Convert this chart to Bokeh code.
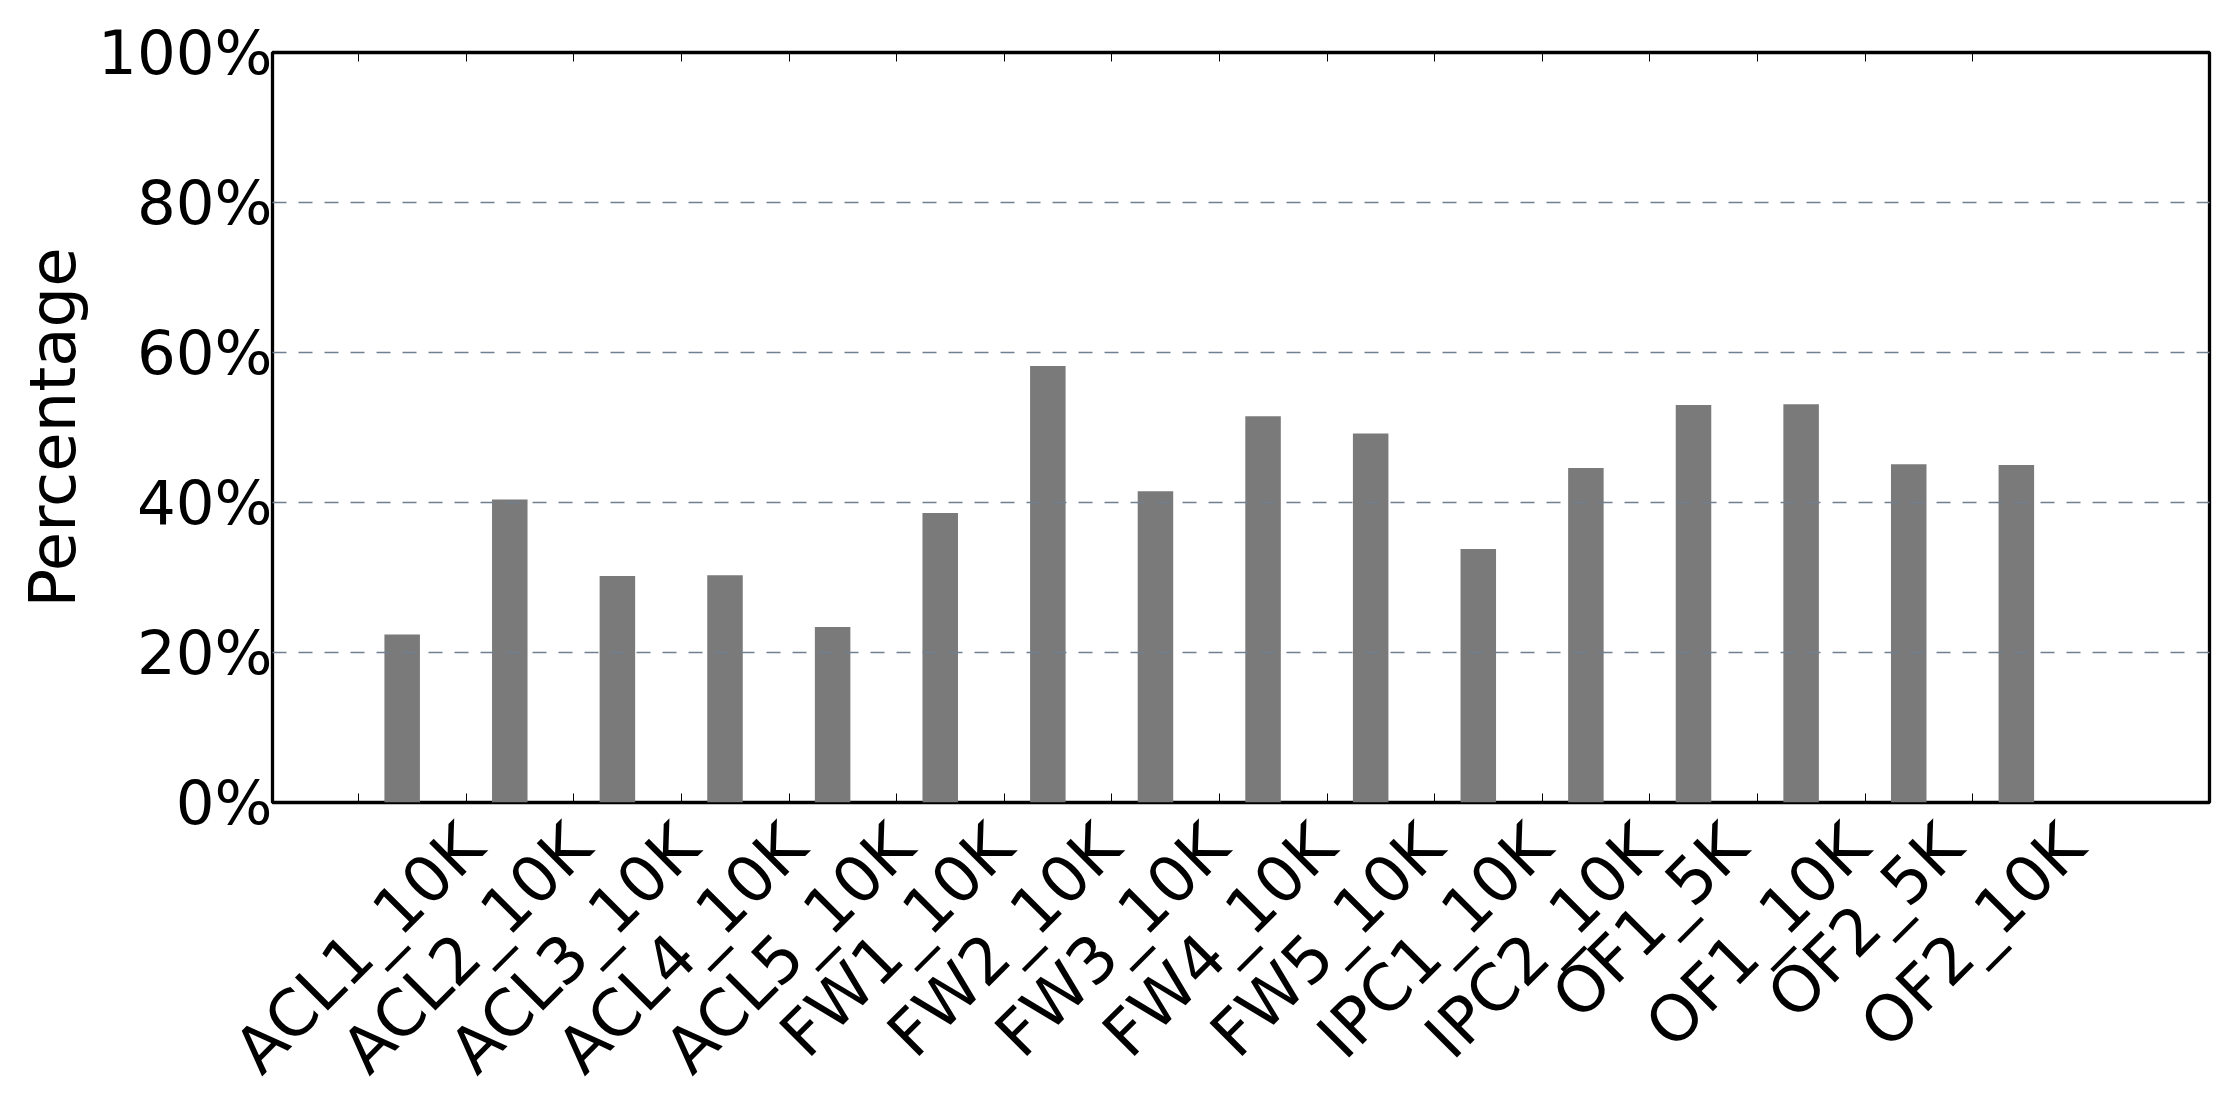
import math
from bokeh.plotting import figure
from bokeh.models import FixedTicker, LinearAxis, Range1d, PrintfTickFormatter
from bokeh.embed import file_html
from bokeh.resources import INLINE

# ---- data ----
categories = ["ACL1_10K", "ACL2_10K", "ACL3_10K", "ACL4_10K", "ACL5_10K",
              "FW1_10K", "FW2_10K", "FW3_10K", "FW4_10K", "FW5_10K",
              "IPC1_10K", "IPC2_10K", "OF1_5K", "OF1_10K", "OF2_5K", "OF2_10K"]
percentages = [22.4, 40.4, 30.2, 30.3, 23.4,
               38.6, 58.2, 41.5, 51.5, 49.2,
               33.8, 44.6, 53.0, 53.1, 45.1, 45.0]
y_ticks = [0, 20, 40, 60, 80, 100]
grid_ticks = [20, 40, 60, 80]

# ---- layout / style ----
FRAME_W, FRAME_H = 1937, 750
X_SPAN = 18.0
TICK_OFF, BAR_OFF, BAR_W = 0.8, 1.205, 0.33
YTICK_FS, XTICK_FS, LABEL_FS = 61, 64, 64
FONT = "DejaVu Sans"
BAR_COLOR = "#7a7a7a"
GRID_COLOR = "#708090"

n = len(categories)
tick_pos = [i + TICK_OFF for i in range(n)]
bar_x = [i + BAR_OFF for i in range(n)]

# approximate DejaVu Sans advance widths (em) to centre rotated labels on ticks
CW = {"A": 0.684, "C": 0.698, "L": 0.557, "F": 0.575, "W": 0.989, "I": 0.295,
      "P": 0.603, "O": 0.787, "K": 0.656, "_": 0.500}
def text_w(s):
    return sum(CW.get(c, 0.636) for c in s) * XTICK_FS

ppu = FRAME_W / X_SPAN
box_h = 1.164 * XTICK_FS
s45 = math.sin(math.pi / 4)
# bokeh anchors a rotated bottom label at its right-middle point
label_pos = [t + text_w(c) * s45 / 2 / ppu for t, c in zip(tick_pos, categories)]
label_standoff = int(round(1 + box_h * s45 / 2))

p = figure(frame_width=FRAME_W, frame_height=FRAME_H,
           x_range=Range1d(0, X_SPAN), y_range=Range1d(0, 100),
           output_backend="svg", toolbar_location=None,
           min_border_left=272, min_border_right=16,
           min_border_top=52, min_border_bottom=296,
           background_fill_color="white", border_fill_color="white")

p.outline_line_color = "black"
p.outline_line_width = 3.3
p.outline_line_alpha = 1.0

p.vbar(x=bar_x, top=percentages, bottom=0, width=BAR_W,
       fill_color=BAR_COLOR, line_color=None)

# grid (drawn over bars, as in the reference)
p.xgrid.visible = False
p.ygrid.ticker = FixedTicker(ticks=grid_ticks)
p.ygrid.grid_line_color = GRID_COLOR
p.ygrid.grid_line_dash = "14 12"
p.ygrid.grid_line_width = 1.3
p.ygrid.level = "annotation"

# bottom axis: labels at centred positions (major), tick marks at category ticks (minor)
xa = p.xaxis[0]
xa.ticker = FixedTicker(ticks=label_pos, minor_ticks=tick_pos)
xa.major_label_overrides = {lp: c for lp, c in zip(label_pos, categories)}
xa.major_label_orientation = math.pi / 4
xa.major_label_text_font = FONT
xa.major_label_text_font_size = f"{XTICK_FS}px"
xa.major_label_text_color = "black"
xa.major_label_standoff = label_standoff
xa.major_tick_line_color = None
xa.minor_tick_in = 9
xa.minor_tick_out = 0
xa.minor_tick_line_color = "black"
xa.minor_tick_line_width = 1
xa.axis_line_color = None

# left axis
ya = p.yaxis[0]
ya.ticker = FixedTicker(ticks=y_ticks)
ya.formatter = PrintfTickFormatter(format="%d%%")
ya.major_label_text_font = FONT
ya.major_label_text_font_size = f"{YTICK_FS}px"
ya.major_label_text_color = "black"
ya.major_label_standoff = 0
ya.major_tick_in = 9
ya.major_tick_out = 0
ya.major_tick_line_color = "black"
ya.major_tick_line_width = 1
ya.minor_tick_line_color = None
ya.axis_line_color = None
ya.axis_label = "Percentage"
ya.axis_label_text_font = FONT
ya.axis_label_text_font_size = f"{LABEL_FS}px"
ya.axis_label_text_font_style = "normal"
ya.axis_label_text_color = "black"
ya.axis_label_standoff = 5

# top and right axes: inward ticks only, no labels
top = LinearAxis(ticker=FixedTicker(ticks=tick_pos),
                 major_label_text_color=None, major_label_text_font_size="1px",
                 major_label_standoff=0, major_tick_in=9, major_tick_out=0,
                 major_tick_line_width=1, minor_tick_line_color=None, axis_line_color=None)
p.add_layout(top, "above")
right = LinearAxis(ticker=FixedTicker(ticks=y_ticks),
                   major_label_text_color=None, major_label_text_font_size="1px",
                   major_label_standoff=0, major_tick_in=9, major_tick_out=0,
                   major_tick_line_width=1, minor_tick_line_color=None, axis_line_color=None)
p.add_layout(right, "right")

open("out.html", "w").write(file_html(p, INLINE))
